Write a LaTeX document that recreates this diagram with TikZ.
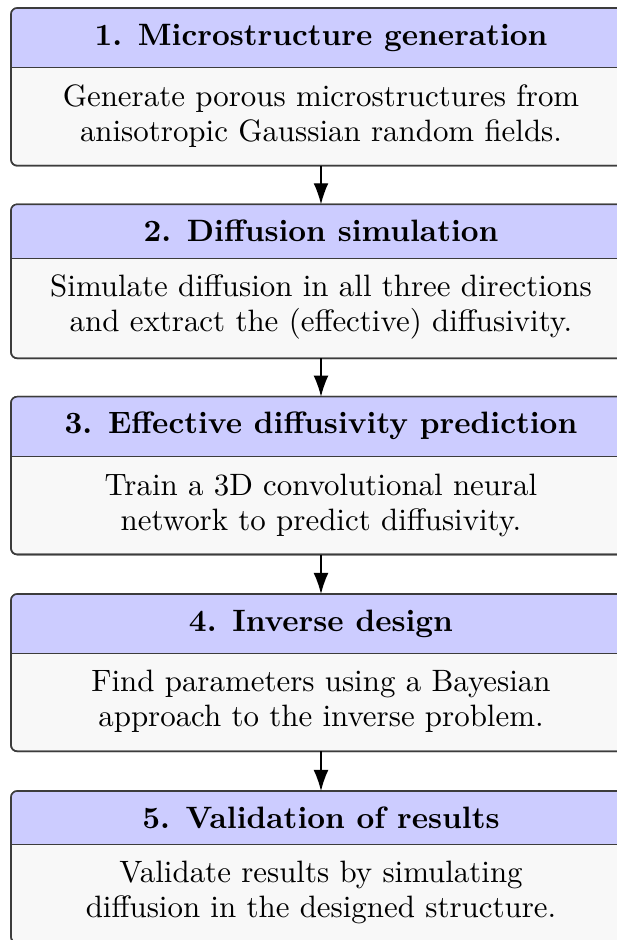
\documentclass[tikz,border=0pt]{standalone}
\usetikzlibrary{arrows.meta}
\definecolor{hdr}{RGB}{204,204,255}
\definecolor{bdy}{RGB}{248,248,248}
\definecolor{frm}{RGB}{60,60,60}
\tikzset{
  stageframe/.style={rectangle, draw=frm, fill=bdy, line width=0.5pt, rounded corners=2pt,
    inner sep=0pt, outer sep=0pt, minimum width={620*0.3235pt}},
  framepath/.style={draw=frm, line width=0.5pt, rounded corners=2pt},
  seprule/.style={draw=frm, line width=0.5pt},
  titletext/.style={anchor=base, inner sep=0pt, font=\bfseries},
  bodytext/.style={anchor=base, inner sep=0pt},
  conn/.style={draw=black, line width=0.45pt, -{Latex[length=6.8pt,width=4.8pt]}}
}
\newcommand\stagebox[7]{%
  \node[stageframe, minimum height={(#4-#2)*0.3235pt}] (#1) at (321,{(#2+#4)/2}) {};
  \coordinate (#1h) at (321,#3);
  \begin{scope}
    \clip[rounded corners=2pt] (#1.north west) rectangle (#1.south east);
    \fill[hdr] (#1.north west) rectangle (#1.east |- #1h);
  \end{scope}
  \draw[seprule] (#1.west |- #1h) -- (#1.east |- #1h);
  \draw[framepath] (#1.north west) rectangle (#1.south east);
  \node[titletext] (#1t) at (321,{#2+37}) {#5};
  \node[bodytext] (#1a) at (321,{#3+38.3}) {#6};
  \node[bodytext] (#1b) at (321,{#3+73.3}) {#7};
}
\begin{document}
\begin{tikzpicture}[x=0.3235pt,y=-0.3235pt]
\useasboundingbox (0,0) rectangle (617,940);
\clip (0,0) rectangle (617,940);
\stagebox{b1}{8}{67.7}{165.7}{1. Microstructure generation}{Generate porous microstructures from}{anisotropic Gaussian random fields.}
\stagebox{b2}{204.3}{258.3}{358.3}{2. Diffusion simulation}{Simulate diffusion in all three directions}{and extract the (effective) diffusivity.}
\stagebox{b3}{396.7}{456.7}{554.5}{3. Effective diffusivity prediction}{Train a 3D convolutional neural}{network to predict diffusivity.}
\stagebox{b4}{594}{653.3}{751.3}{4. Inverse design}{Find parameters using a Bayesian}{approach to the inverse problem.}
\stagebox{b5}{791}{844.3}{943}{5. Validation of results}{Validate results by simulating}{diffusion in the designed structure.}
\draw[conn] (b1.south) -- (b2.north);
\draw[conn] (b2.south) -- (b3.north);
\draw[conn] (b3.south) -- (b4.north);
\draw[conn] (b4.south) -- (b5.north);
\end{tikzpicture}
\end{document}
